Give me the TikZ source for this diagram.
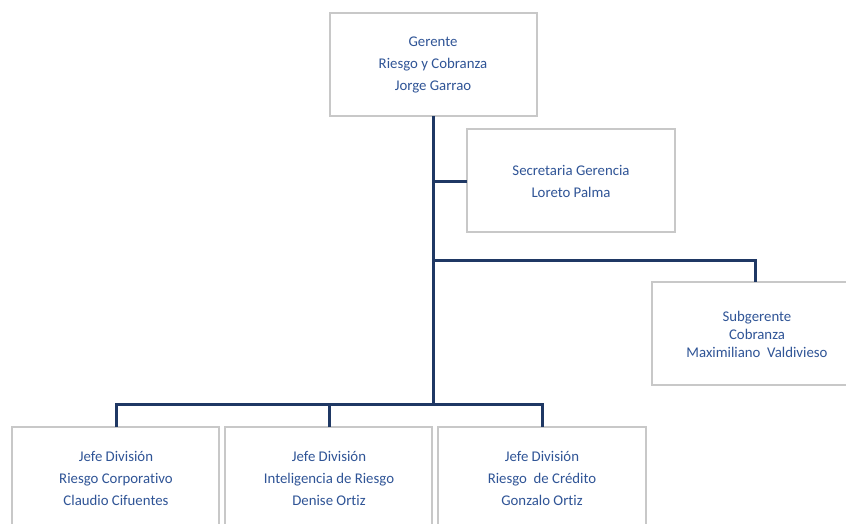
\documentclass[tikz,border=0pt]{standalone}
\usepackage{fontspec}
\setmainfont{Carlito}[Ligatures={NoCommon}]
\definecolor{linec}{HTML}{1F3864}
\definecolor{textc}{HTML}{2F5496}
\definecolor{boxc}{HTML}{C8C8C8}
\begin{document}
\begin{tikzpicture}[x=1pt,y=-1pt,
  box/.style={draw=boxc,line width=1.3pt,fill=white},
  lbl/.style={text=textc,font=\fontsize{14.8}{22}\selectfont,align=center},
  conn/.style={draw=linec,line width=3pt}]
\useasboundingbox (0,0) rectangle (846,523);
\begin{scope}
\clip (0,0) rectangle (846,523);
% boxes
\draw[box] (330,13) rectangle (537,116);
\draw[box] (467,129) rectangle (675,232);
\draw[box] (652,282) rectangle (870,385);
\draw[box] (12,427) rectangle (219,540);
\draw[box] (225,427) rectangle (432,540);
\draw[box] (438,427) rectangle (646,540);
% anchors
\coordinate (gb) at (433,116);
\coordinate (sl) at (467,181);
\coordinate (st) at (755,282);
\coordinate (b1) at (116,427);
\coordinate (b2) at (329,427);
\coordinate (b3) at (542,427);
\coordinate (bus) at (433,404);
% connectors
\draw[conn] (gb) -- (bus);
\draw[conn] (433,181) -- (sl);
\draw[conn] (433,260) -| (st);
\draw[conn] (b1) |- (bus) -| (b3);
\draw[conn] (b2) -- (329,404);
% labels
\node[lbl] (g) at (433,65) {Gerente\\Riesgo y Cobranza\\Jorge Garrao};
\node[lbl] (s) at (571,181) {Secretaria Gerencia\\Loreto Palma};
\node[lbl,font=\fontsize{14.8}{18}\selectfont] (sg) at (757,334) {Subgerente\\Cobranza\\Maximiliano\ \ Valdivieso};
\node[lbl] (j1) at (116,478) {Jefe División\\Riesgo Corporativo\\Claudio Cifuentes};
\node[lbl] (j2) at (329,478) {Jefe División\\Inteligencia de Riesgo\\Denise Ortiz};
\node[lbl] (j3) at (542,478) {Jefe División\\Riesgo\ \ de Crédito\\Gonzalo Ortiz};
\end{scope}
\end{tikzpicture}
\end{document}
